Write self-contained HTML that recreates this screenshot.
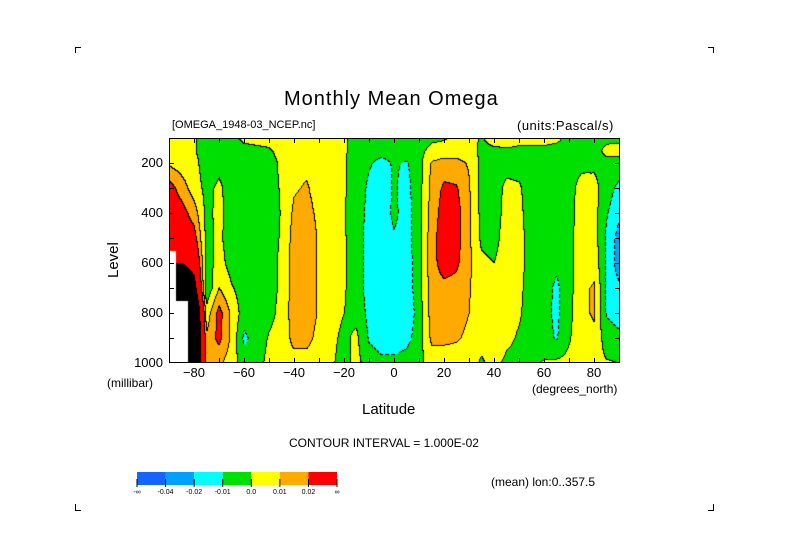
<!DOCTYPE html>
<html><head><meta charset="utf-8"><style>
body{margin:0;background:#fff;width:789px;height:558px;overflow:hidden;position:relative;font-family:"Liberation Sans",sans-serif;}
.t{position:absolute;white-space:nowrap;color:#000;}
</style></head><body>
<svg id="svg" width="789" height="558" style="position:absolute;left:0;top:0">
<g stroke="#000" stroke-width="1" fill="none">
<path d="M75.5 53V47.5H81"/><path d="M713.5 53V47.5H708"/><path d="M75.5 504V510.5H81"/><path d="M713.5 504V510.5H708"/>
</g>
<foreignObject x="169" y="138" width="451" height="225"><canvas id="cv" width="451" height="225" xmlns="http://www.w3.org/1999/xhtml"></canvas></foreignObject>
<rect x="169.5" y="138.5" width="450" height="224" fill="none" stroke="#000"/>
<g id="ticks" stroke="#000"></g>
<g id="legend"></g>
</svg>
<div class="t" style="left:284px;top:88px;font-size:20px;letter-spacing:1px">Monthly Mean Omega</div>
<div class="t" style="left:172px;top:119px;font-size:11px">[OMEGA_1948-03_NCEP.nc]</div>
<div class="t" style="left:517px;top:118px;font-size:13px;letter-spacing:.5px">(units:Pascal/s)</div>
<div class="t" style="left:105px;top:278px;font-size:15px;transform:rotate(-90deg);transform-origin:0 0">Level</div>
<div class="t" style="left:107px;top:376px;font-size:12px">(millibar)</div>
<div class="t" style="left:532px;top:382px;font-size:12px">(degrees_north)</div>
<div class="t" style="left:362px;top:401px;font-size:15px">Latitude</div>
<div class="t" style="left:289px;top:436px;font-size:12px">CONTOUR INTERVAL = 1.000E-02</div>
<div class="t" style="left:491px;top:475px;font-size:12px">(mean) lon:0..357.5</div>
<div id="labels"></div>
<script>
const levels=[100,150,200,300,400,500,600,700,800,900,1000];
const lats=[-90,-85,-80,-75,-70,-65,-60,-55,-50,-45,-40,-35,-30,-25,-20,-15,-10,-5,0,5,10,15,20,25,30,35,40,45,50,55,60,65,70,75,80,85,90];
const N=NaN;
const omega=[
[0.5,0.5,0.8,2.5,3,3,N,N,N,N,N],
[0.4,0.4,0.5,1.5,2.5,3,5,8,N,N,N],
[0.1,0.1,0.3,0.5,1.5,2.5,4,6,9,9,9],
[-0.5,-0.5,-0.5,-0.3,-0.3,-0.3,-0.5,-0.8,0.4,1.2,1.5],
[-0.4,-0.4,-0.3,0.2,0.3,0.2,0.4,1.0,2.4,2.3,1.2],
[-0.3,-0.4,-0.5,-0.5,-0.5,-0.5,-0.4,0.1,0.8,0.8,0.4],
[0.2,-0.3,-0.5,-0.5,-0.5,-0.5,-0.5,-0.5,-0.5,-1.2,-0.4],
[0.3,-0.2,-0.5,-0.5,-0.5,-0.5,-0.5,-0.5,-0.6,-0.6,-0.4],
[0.3,-0.1,-0.4,-0.4,-0.4,-0.4,-0.4,-0.4,-0.3,0.1,0.3],
[0.3,0.3,0.2,0.1,0.05,0.1,0.2,0.2,0.3,0.4,0.6],
[0.5,0.5,0.6,0.9,1.2,1.4,1.5,1.5,1.5,1.3,0.6],
[0.5,0.6,0.8,1.1,1.3,1.5,1.5,1.5,1.5,1.3,0.6],
[0.4,0.4,0.5,0.6,0.8,0.9,0.9,0.9,0.9,0.7,0.3],
[0.3,0.3,0.3,0.4,0.4,0.4,0.4,0.4,0.3,0.2,0.1],
[0.1,0.1,0.1,0.1,0.05,0.1,0.1,0.1,0.0,-0.2,-0.3],
[-0.3,-0.3,-0.4,-0.4,-0.5,-0.5,-0.5,-0.5,-0.3,0.2,0.3],
[-0.5,-0.5,-0.9,-1.2,-1.3,-1.4,-1.4,-1.4,-1.3,-1.1,-0.5],
[-0.5,-0.7,-1.3,-1.5,-1.5,-1.6,-1.6,-1.6,-1.6,-1.4,-0.8],
[-0.4,-0.5,-0.9,-0.9,-0.8,-1.1,-1.5,-1.6,-1.7,-1.4,-0.8],
[-0.4,-0.5,-1.1,-1.3,-1.4,-1.4,-1.5,-1.6,-1.8,-1.3,-0.6],
[-0.4,-0.3,-0.4,-0.4,-0.4,-0.4,-0.4,-0.4,-0.5,-0.5,-0.3],
[-0.2,0.3,1.1,1.3,1.4,1.6,1.6,1.5,1.4,1.2,0.5],
[-0.1,0.4,1.4,2.2,2.5,2.6,2.5,1.7,1.5,1.2,0.5],
[0.2,0.5,1.3,2.1,2.4,2.4,2.2,1.6,1.4,1.1,0.5],
[0.3,0.4,0.9,1.1,1.2,1.2,1.2,1.1,1.0,0.8,0.3],
[-0.1,-0.2,-0.3,-0.3,-0.3,-0.2,0.2,0.3,0.3,0.2,-0.1],
[0.4,-0.2,-0.4,-0.4,-0.4,-0.3,0.0,0.3,0.6,0.9,0.2],
[0.4,-0.1,-0.3,0.2,0.3,0.4,0.5,0.4,0.3,0.2,-0.2],
[0.3,-0.2,-0.3,0.1,0.2,0.3,0.3,0.2,0.1,-0.1,-0.3],
[0.3,-0.2,-0.4,-0.4,-0.4,-0.4,-0.4,-0.4,-0.4,-0.3,-0.2],
[0.3,-0.2,-0.4,-0.4,-0.4,-0.4,-0.5,-0.6,-0.7,-0.6,0.1],
[0.2,-0.3,-0.4,-0.4,-0.4,-0.4,-0.8,-1.2,-1.2,-1.1,0.2],
[-0.3,-0.3,-0.3,-0.3,-0.3,-0.3,-0.3,-0.4,-0.3,-0.1,0.3],
[-0.3,-0.3,-0.2,0.3,0.4,0.5,0.6,0.8,0.8,0.6,0.3],
[-0.3,-0.3,-0.2,0.3,0.4,0.5,0.7,1.1,1.1,0.8,0.3],
[-0.2,0.2,-0.2,-0.5,-0.9,-1.2,-1.2,-1.1,-1.1,-0.5,0.1],
[-0.2,0.3,-0.3,-1.3,-1.8,-2.4,-2.5,-1.8,-1.4,-0.8,0.0]];
const binEdges=[-4,-2,-1,0,1,2];
const binColors=["#1464ff","#00a0ff","#00ffff","#00e000","#ffff00","#ffaa00","#ff0000"];
const legendLabels=["-\u221e","-0.04","-0.02","-0.01","0.0","0.01","0.02","\u221e"];
const xTickLabels=[-80,-60,-40,-20,0,20,40,60,80];
const yTickLabels=[200,400,600,800,1000];
const X0=169,Y0=138,W=450,H=225;
const xS=lat=>X0+(lat+90)/180*W;
const yS=p=>Y0+(p-100)/900*H;
const rgb=binColors.map(c=>[parseInt(c.substr(1,2),16),parseInt(c.substr(3,2),16),parseInt(c.substr(5,2),16)]);
function cls(v){if(isNaN(v))return -1;if(v>5)return 8;let k=0;while(k<binEdges.length&&v>=binEdges[k])k++;return k;}
function val(lat,p){
 let i=0;while(i<lats.length-2&&lat>lats[i+1])i++;
 let j=0;while(j<levels.length-2&&p>levels[j+1])j++;
 const tx=Math.min(1,Math.max(0,(lat-lats[i])/(lats[i+1]-lats[i])));
 const ty=Math.min(1,Math.max(0,(p-levels[j])/(levels[j+1]-levels[j])));
 const a=omega[i][j],b=omega[i+1][j],c=omega[i][j+1],d=omega[i+1][j+1];
 const near=omega[tx<0.5?i:i+1][ty<0.5?j:j+1];
 if(isNaN(near))return NaN;
 const f=(x,y)=>isNaN(x)?y:x;
 const A=f(a,near),B=f(b,near),C=f(c,near),D=f(d,near);
 return A*(1-tx)*(1-ty)+B*tx*(1-ty)+C*(1-tx)*ty+D*tx*ty;
}
const cv=document.getElementById('cv'),ctx=cv.getContext('2d');
const img=ctx.createImageData(451,225);
const K=[];
for(let y=0;y<225;y++){K.push([]);for(let x=0;x<451;x++){const lat=x/W*180-90,p=100+y/H*900;K[y].push(cls(val(lat,p)));}}
for(let y=0;y<225;y++)for(let x=0;x<451;x++){
 const k=K[y][x];let c;
 if(k<0)c=[255,255,255];else if(k==8)c=[0,0,0];else c=rgb[k];
 const edge=k>=0&&((x<450&&K[y][x+1]>=0&&K[y][x+1]!=k)||(y<224&&K[y+1][x]>=0&&K[y+1][x]!=k));
 if(edge){const neg=Math.min(k,x<450?K[y][x+1]:k,y<224?K[y+1][x]:k)<3;if(!neg||((x+y)%6<4))c=[0,0,0];}
 const o=(y*451+x)*4;img.data[o]=c[0];img.data[o+1]=c[1];img.data[o+2]=c[2];img.data[o+3]=255;}
ctx.putImageData(img,0,0);
const NS='http://www.w3.org/2000/svg';
const tg=document.getElementById('ticks');
for(let lat=-80;lat<=80;lat+=10){const x=Math.round(xS(lat))+0.5;
 for(const [y1,y2] of [[363,358],[138,143]]){const l=document.createElementNS(NS,'line');l.setAttribute('x1',x);l.setAttribute('x2',x);l.setAttribute('y1',y1);l.setAttribute('y2',y2);
 
 tg.appendChild(l);}}
for(let p=200;p<=900;p+=100){const y=Math.round(yS(p))+0.5;
 for(const [x1,x2] of [[169,174],[620,615]]){const l=document.createElementNS(NS,'line');l.setAttribute('x1',x1);l.setAttribute('x2',x2);l.setAttribute('y1',y);l.setAttribute('y2',y);
 
 tg.appendChild(l);}}
const lb=document.getElementById('labels');
xTickLabels.forEach(v=>{const d=document.createElement('div');d.className='t';d.style.fontSize='13px';
 d.style.left=(xS(v)-20)+'px';d.style.width='40px';d.style.textAlign='center';d.style.top='365px';
 d.textContent=v==0?'0':String(v).replace('-','\u2212');
 
 lb.appendChild(d);});
yTickLabels.forEach(v=>{const d=document.createElement('div');d.className='t';d.style.fontSize='13px';
 d.style.left='112px';d.style.width='51px';d.style.textAlign='right';d.style.top=(yS(v)-8)+'px';d.textContent=v;
 
 lb.appendChild(d);});
const lg=document.getElementById('legend');
const bw=200/binColors.length;
binColors.forEach((c,i)=>{const r=document.createElementNS(NS,'rect');r.setAttribute('x',137+i*bw);r.setAttribute('y',472);r.setAttribute('width',bw);r.setAttribute('height',13);r.setAttribute('fill',c);
 
 lg.appendChild(r);});
legendLabels.forEach((t,i)=>{const x=137+i*bw;const l=document.createElementNS(NS,'line');l.setAttribute('x1',x);l.setAttribute('x2',x);l.setAttribute('y1',479);l.setAttribute('y2',487);l.setAttribute('stroke','#000');
 
 lg.appendChild(l);
 const tx=document.createElementNS(NS,'text');tx.setAttribute('x',x);tx.setAttribute('y',494);tx.setAttribute('font-size','7');tx.setAttribute('text-anchor','middle');tx.setAttribute('font-family','Liberation Sans, sans-serif');tx.textContent=t;
 
 lg.appendChild(tx);});
</script>
</body></html>
